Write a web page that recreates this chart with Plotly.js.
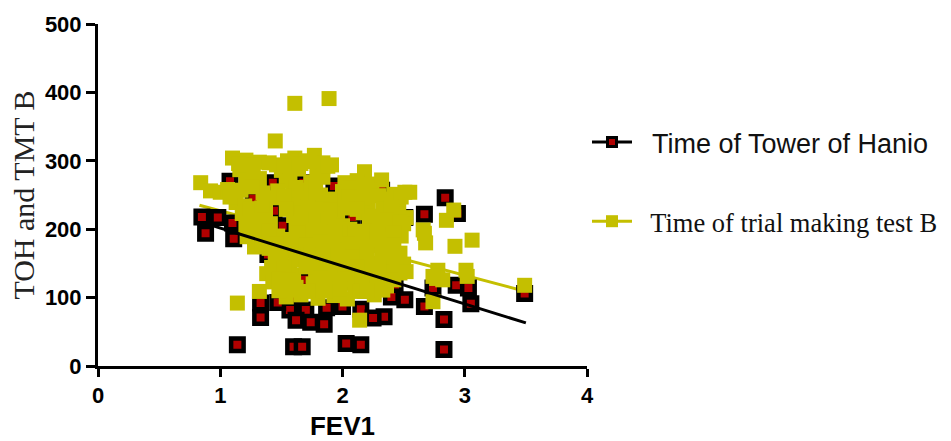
<!DOCTYPE html>
<html><head><meta charset="utf-8">
<script src="https://cdn.plot.ly/plotly-3.0.1.min.js"></script>
<style>html,body{margin:0;padding:0;background:#fff;}#chart{width:951px;height:441px;}</style>
</head><body><div id="chart"></div>
<script>
// Time of Tower of Hanio (TOH) vs FEV1
const tohX = [0.85,0.98,1.10,0.88,1.11,1.08,1.43,1.27,1.51,1.39,1.70,1.33,1.33,1.57,1.57,1.70,1.47,1.74,1.85,1.62,
  1.14,1.60,1.67,1.93,1.87,2.51,2.67,2.00,2.15,2.34,2.25,2.51,2.74,2.67,2.03,2.15,2.84,2.94,2.83,2.83,
  2.93,3.03,3.05,3.49,2.32,2.08,2.43,2.30,2.40,2.19,1.44,1.68,1.85,1.90,2.22,1.95,2.14,2.38,2.38,2.32,1.69,
  1.55,1.80,2.00,1.75,1.90,2.10];
const tohY = [218,217,209,194,186,270,268,245,205,163,123,92,71,101,82,82,93,64,61,67,
  31,28,28,263,85,217,222,87,83,72,70,97,114,87,33,31,246,223,68,24,
  118,114,91,106,257,218,116,136,101,111,227,268,224,204,206,191,194,184,223,145,126,
  180,170,150,200,140,160];

// Time of trial making test B (TMT B) vs FEV1
const tmtX = [1.10,1.21,1.32,1.46,1.55,1.61,1.70,1.77,1.84,1.91,
  1.16,1.26,1.50,1.57,1.64,1.79,2.18,
  0.84,1.21,1.32,1.54,1.74,1.84,2.02,2.12,2.24,2.32,
  0.92,1.00,1.06,1.17,1.35,1.47,1.60,1.72,1.82,2.00,2.12,2.22,2.42,2.51,
  1.13,1.20,1.36,1.58,1.66,1.77,1.97,2.10,2.21,2.40,2.46,
  1.18,1.30,1.37,1.60,1.67,1.76,1.96,2.17,2.26,2.45,2.52,
  1.21,1.32,1.41,1.62,1.73,1.82,2.00,2.06,2.30,2.41,2.50,
  1.22,1.34,1.47,1.58,1.68,1.80,1.88,2.04,2.24,2.34,2.48,
  1.28,1.40,1.52,1.64,1.74,1.86,1.98,2.10,2.20,2.36,2.47,
  1.45,1.57,1.66,1.77,1.90,2.00,2.14,2.24,2.38,2.50,
  1.38,1.48,1.60,1.78,1.86,1.96,2.06,2.18,2.40,2.47,
  1.43,1.52,1.62,1.76,1.88,2.00,2.10,2.22,2.36,
  1.32,1.54,1.66,1.80,1.93,2.04,2.26,2.33,
  1.15,1.27,1.40,1.52,1.66,1.73,1.88,
  1.26,1.62,1.78,2.06,2.17,
  1.08,1.42,1.52,1.66,1.78,1.90,2.05,2.16,2.30,2.36,2.48,
  1.24,1.34,1.54,1.72,1.83,1.90,2.04,2.12,2.33,2.40,
  1.26,1.36,1.66,1.78,1.88,2.22,2.36,2.47,
  1.28,1.40,1.64,1.76,1.94,2.10,2.18,2.28,2.42,
  1.34,1.46,1.58,1.70,1.82,1.92,2.06,2.16,2.30,2.42,
  1.50,1.62,1.72,1.84,1.96,2.08,2.20,2.32,2.44,
  1.42,1.52,1.70,1.82,1.92,2.02,2.12,2.30,2.44,
  1.48,1.56,1.82,1.94,2.04,2.16,2.28,2.42,
  1.48,1.60,1.72,1.86,1.98,2.14,2.20,
  1.14,1.61,1.89,1.45,2.14,2.85,2.91,2.67,2.68,2.92,3.06,2.78,2.82,3.01,3.02,2.74,3.49,2.77,2.66,2.74,2.55,2.52];
const tmtY = [304,301,298,294,300,304,300,308,297,294,
  287,283,286,281,288,285,284,
  268,272,274,270,269,276,268,271,266,272,
  256,254,258,257,253,256,252,257,250,255,250,257,251,254,
  239,234,238,236,241,237,240,236,240,238,233,
  223,219,226,220,224,218,222,224,219,222,217,
  206,203,208,201,207,203,205,200,204,204,208,
  189,186,190,185,189,186,191,187,189,185,190,
  174,172,168,173,167,171,169,174,168,172,165,
  154,146,155,150,153,149,155,150,154,149,
  135,137,133,136,132,138,133,137,134,136,
  123,118,115,120,116,121,117,120,117,
  109,101,104,99,103,98,104,111,
  296,294,297,293,296,299,292,
  262,261,263,260,264,
  247,246,249,245,248,244,247,246,249,244,247,
  230,231,229,232,230,228,231,229,230,232,
  213,214,212,215,213,212,214,211,
  196,197,195,198,196,194,197,196,195,
  179,178,180,177,181,179,178,180,179,177,
  161,162,160,163,161,159,162,160,161,
  144,143,145,142,144,143,145,144,143,
  127,126,128,125,127,126,128,126,
  110,111,109,110,112,109,111,
  92,384,391,329,67,213,228,194,180,175,184,140,126,140,131,94,118,128,199,131,254,138];

// Regression lines (end points)
const tohFitX = [0.85, 3.5];
const tohFitY = [210, 63];
const tmtFitX = [0.83, 3.5];
const tmtFitY = [235, 109];

const seriesNames = ['Time of Tower of Hanio', 'Time of trial making test B'];
const xTickVals = [0, 1, 2, 3, 4];
const yTickVals = [0, 100, 200, 300, 400, 500];
const xTitle = 'FEV1';
const yTitle = 'TOH and TMT B';

const BLACK = '#000000', RED = '#b00000', YEL = '#c4bf00';
const NB = '\u00a0\u00a0';

const traces = [
  {x: tmtFitX, y: tmtFitY, type: 'scatter', mode: 'lines', showlegend: false,
   line: {color: YEL, width: 3}},
  {x: tohX, y: tohY, type: 'scatter', mode: 'markers', showlegend: false, hoverinfo: 'x+y',
   marker: {symbol: 'square', size: 12.5, color: RED, line: {color: BLACK, width: 4.5}}},
  {x: tmtX, y: tmtY, type: 'scatter', mode: 'markers', showlegend: false, hoverinfo: 'x+y',
   marker: {symbol: 'square', size: 15, color: YEL, line: {width: 0}}},
  {x: tohFitX, y: tohFitY, type: 'scatter', mode: 'lines', showlegend: false,
   line: {color: BLACK, width: 3}},
  {x: [null], y: [null], type: 'scatter', mode: 'lines+markers', legendgroup: 'a',
   name: '<span style="font-family:Liberation Sans, Arial, sans-serif">' + NB + seriesNames[0] + '</span>',
   line: {color: BLACK, width: 3}, marker: {symbol: 'square', size: 9, color: RED, line: {color: BLACK, width: 3}}},
  {x: [null], y: [null], type: 'scatter', mode: 'lines+markers', legendgroup: 'b',
   name: '<span style="font-family:Liberation Serif, Times New Roman, serif;font-size:26.5px">' + NB + seriesNames[1] + '</span>',
   line: {color: YEL, width: 3}, marker: {symbol: 'square', size: 12, color: YEL, line: {width: 0}}}
];

const layout = {
  width: 951, height: 441,
  margin: {l: 98, r: 364, t: 24, b: 75, pad: 0, autoexpand: false},
  paper_bgcolor: '#ffffff', plot_bgcolor: '#ffffff',
  font: {family: 'Liberation Sans, Arial, sans-serif', color: '#000'},
  showlegend: true,
  legend: {x: 1.0, xanchor: 'left', y: 0.725, yanchor: 'top', traceorder: 'grouped', tracegroupgap: 41,
           font: {size: 27, color: '#111'}, bgcolor: 'rgba(0,0,0,0)', borderwidth: 0, itemwidth: 40},
  xaxis: {range: [0, 4], tickvals: xTickVals, ticktext: xTickVals.map(String), automargin: false,
          showline: true, linecolor: '#000', linewidth: 3, ticks: 'outside', ticklen: 8, tickwidth: 3, tickcolor: '#000',
          showgrid: false, zeroline: false, fixedrange: true,
          tickfont: {family: 'Liberation Sans, Arial, sans-serif', size: 22, weight: 'bold', color: '#000'},
          title: {text: '<b>' + xTitle + '</b>', font: {family: 'Liberation Sans, Arial, sans-serif', size: 26, color: '#000'}, standoff: 12}},
  yaxis: {range: [0, 500], tickvals: yTickVals, ticktext: yTickVals.map(String), automargin: false,
          showline: true, linecolor: '#000', linewidth: 3, ticks: 'outside', ticklen: 9, tickwidth: 3, tickcolor: '#000',
          showgrid: false, zeroline: false, fixedrange: true,
          tickfont: {family: 'Liberation Sans, Arial, sans-serif', size: 22, weight: 'bold', color: '#000'},
          title: {text: yTitle, font: {family: 'Liberation Serif, Times New Roman, serif', size: 30, color: '#222'}, standoff: 2}}
};

Plotly.newPlot('chart', traces, layout, {displayModeBar: false, staticPlot: true});
</script>
</body></html>
